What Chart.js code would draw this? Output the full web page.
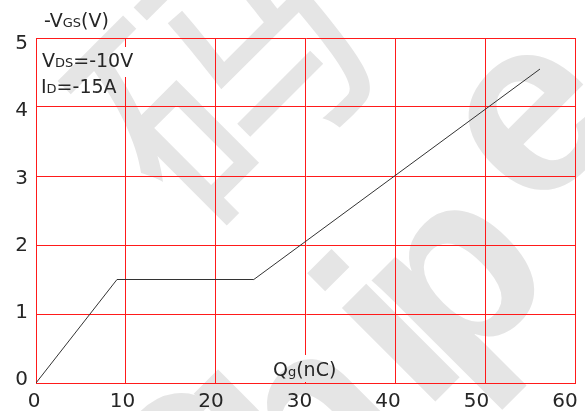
<!DOCTYPE html>
<html>
<head>
<meta charset="utf-8">
<script src="https://cdn.jsdelivr.net/npm/chart.js@4.4.1/dist/chart.umd.min.js"></script>
<style>
  html, body { margin: 0; padding: 0; background: #fff; }
  #box { width: 585px; height: 411px; }
</style>
</head>
<body>
<div id="box"><canvas id="gate" width="585" height="411"></canvas></div>
<script>
// Gate charge characteristic: -VGS versus total gate charge Qg
const qgNC = [0, 9, 24.2, 56];
const vgsV = [0, 1.5, 1.5, 4.55];

// Grid divisions and axis labels
const xTicks = [0, 10, 20, 30, 40, 50, 60];
const yTicks = [0, 1, 2, 3, 4, 5];

const FONT = '"DejaVu Sans", sans-serif';
const INK = '#262626';
const GRID_RED = '#ff1a1a';

// Pale slanted lettering behind the grid: glyph, centre x, centre y, font
const MARK_GLYPHS = [
  ['码', 222, 80, '270px "Noto Sans CJK SC", sans-serif'],
  ['c', 185, 462, 'bold 250px "Liberation Sans", sans-serif'],
  ['h', 300, 415, 'bold 250px "Liberation Sans", sans-serif'],
  ['i', 383, 325, 'bold 250px "Liberation Sans", sans-serif'],
  ['p', 480, 300, 'bold 250px "Liberation Sans", sans-serif'],
  ['e', 535, 122, 'bold 250px "Liberation Sans", sans-serif']
];

function drawWatermark(ctx) {
  ctx.save();
  ctx.fillStyle = '#e5e5e5';
  ctx.textAlign = 'left';
  ctx.textBaseline = 'alphabetic';
  for (const [ch, cx, cy, font] of MARK_GLYPHS) {
    ctx.save();
    ctx.font = font;
    const m = ctx.measureText(ch);
    const ix = (m.actualBoundingBoxRight - m.actualBoundingBoxLeft) / 2;
    const iy = (m.actualBoundingBoxDescent - m.actualBoundingBoxAscent) / 2;
    ctx.translate(cx, cy);
    ctx.rotate(-45 * Math.PI / 180);
    ctx.fillText(ch, -ix, -iy);
    ctx.restore();
  }
  ctx.restore();
}

// Text with a smaller second part (subscripts such as V_GS, Q_g)
function richText(ctx, parts, x, y) {
  ctx.textAlign = 'left';
  ctx.textBaseline = 'alphabetic';
  for (const [t, size] of parts) {
    ctx.font = size + 'px ' + FONT;
    ctx.fillText(t, x, y);
    x += ctx.measureText(t).width;
  }
}

const backdrop = {
  id: 'backdrop',
  beforeDraw(chart) {
    const ctx = chart.ctx;
    ctx.save();
    ctx.fillStyle = '#fff';
    ctx.fillRect(0, 0, chart.width, chart.height);
    ctx.restore();
    drawWatermark(ctx);
  }
};

// Caption boxes inside the plot cover the grid behind them
function clearBox(ctx, x, y, w, h) {
  ctx.save();
  ctx.beginPath();
  ctx.rect(x, y, w, h);
  ctx.clip();
  ctx.fillStyle = '#fff';
  ctx.fillRect(x, y, w, h);
  drawWatermark(ctx);
  ctx.restore();
}

const captions = {
  id: 'captions',
  afterDraw(chart) {
    const ctx = chart.ctx;
    clearBox(ctx, 40, 47, 100, 30);
    clearBox(ctx, 269, 355, 75, 27);
    ctx.save();
    ctx.fillStyle = INK;
    richText(ctx, [['-V', 19], ['GS', 13], ['(V)', 19]], 44, 27);
    richText(ctx, [['V', 19], ['DS', 13], ['=-10V', 19]], 42, 67);
    richText(ctx, [['I', 19], ['D', 13], ['=-15A', 19]], 41, 93);
    richText(ctx, [['Q', 19], ['g', 13], ['(nC)', 19]], 273, 376);
    ctx.restore();
  }
};

const fixedTicks = arr => scale => { scale.ticks = arr.map(v => ({ value: v })); };

new Chart(document.getElementById('gate'), {
  type: 'line',
  data: {
    datasets: [{
      data: qgNC.map((q, i) => ({ x: q, y: vgsV[i] })),
      borderColor: '#333',
      borderWidth: 1,
      pointRadius: 0,
      tension: 0,
      fill: false
    }]
  },
  options: {
    responsive: false,
    animation: false,
    devicePixelRatio: 1,
    layout: { padding: { top: 38, right: 5, left: 0, bottom: 0 } },
    plugins: { legend: { display: false }, tooltip: { enabled: false } },
    scales: {
      x: {
        type: 'linear', position: 'bottom', weight: 0,
        min: 0, max: 60,
        afterBuildTicks: fixedTicks(xTicks),
        afterFit: s => { s.height = 0; },
        grid: { color: GRID_RED, lineWidth: 1, drawTicks: false },
        border: { display: true, color: GRID_RED },
        ticks: { display: false }
      },
      xLabels: {
        type: 'linear', position: 'bottom', weight: 1,
        min: 0.224, max: 61.23,
        afterBuildTicks: fixedTicks(xTicks),
        afterFit: s => { s.height = 28; },
        grid: { display: false, drawTicks: false },
        border: { display: false },
        ticks: { color: INK, font: { family: FONT, size: 20 }, padding: 7, maxRotation: 0, autoSkip: false }
      },
      y: {
        type: 'linear', position: 'left', weight: 0,
        min: 0, max: 5,
        afterBuildTicks: fixedTicks(yTicks),
        afterFit: s => { s.width = 0; },
        grid: { color: GRID_RED, lineWidth: 1, drawTicks: false },
        border: { display: true, color: GRID_RED },
        ticks: { display: false }
      },
      yLabels: {
        type: 'linear', position: 'left', weight: 1,
        min: -0.045, max: 5.089,
        afterBuildTicks: fixedTicks(yTicks),
        afterFit: s => { s.width = 36; },
        grid: { display: false, drawTicks: false },
        border: { display: false },
        ticks: { color: INK, font: { family: FONT, size: 20 }, padding: 8, autoSkip: false }
      }
    }
  },
  plugins: [backdrop, captions]
});
</script>
</body>
</html>
